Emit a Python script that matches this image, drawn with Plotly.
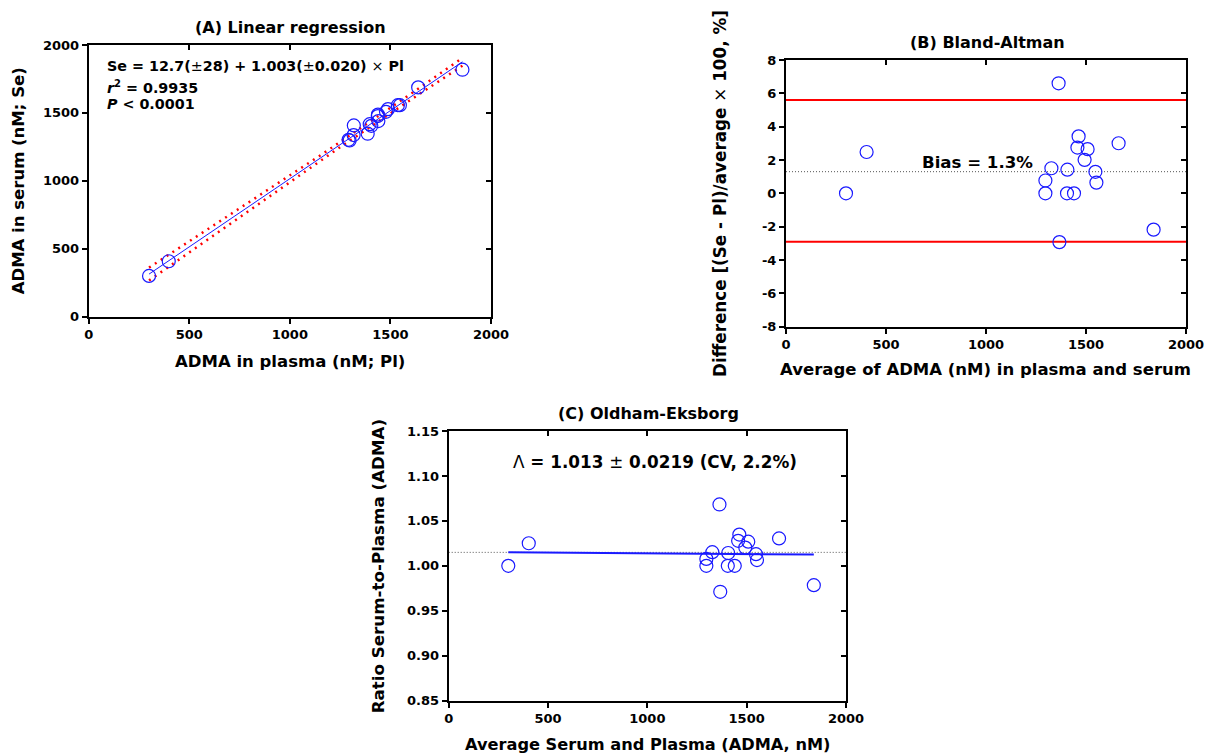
import numpy as np
import plotly.graph_objects as go

# ADMA concentrations (nM) measured in paired plasma and serum samples
plasma = [300, 398, 1318, 1292, 1297, 1317, 1397, 1405, 1440, 1438, 1437, 1488, 1478, 1537, 1547, 1638, 1387, 1858]
serum = [300, 408, 1408, 1302, 1297, 1337, 1417, 1405, 1440, 1488, 1477, 1528, 1508, 1557, 1557, 1688, 1347, 1818]

# Regression results: Se = a + b * Pl
reg_intercept, reg_intercept_se = 12.7, 28
reg_slope, reg_slope_se = 1.003, 0.020
reg_r2 = 0.9935
t_crit = 2.120  # two-sided 95 %, df = 16

# Bland-Altman statistics (%)
ba_bias, ba_upper, ba_lower = 1.3, 5.6, -2.9

# Oldham-Eksborg ratio
oe_mean, oe_sd, oe_cv = 1.013, 0.0219, 2.2
oe_ref = 1.015

# Tick labels
ticks_a = [0, 500, 1000, 1500, 2000]
ticks_b_y = [-8, -6, -4, -2, 0, 2, 4, 6, 8]
ticks_c_y = [0.85, 0.90, 0.95, 1.00, 1.05, 1.10, 1.15]

pl = np.array(plasma, float)
se = np.array(serum, float)
avg = (pl + se) / 2
diff_pct = (se - pl) / avg * 100
ratio = se / pl

W, H = 1205, 756
FONT = "DejaVu Sans"
BLUE = "#1a1aff"


def px(x):
    return x / W


def py(y):
    return 1 - y / H


fig = go.Figure()

marker = dict(symbol="circle-open", size=13, color=BLUE, line=dict(width=1.2, color=BLUE))

# ---------------- (A) Linear regression ----------------
xfit = np.linspace(pl.min(), pl.max(), 60)
yfit = reg_intercept + reg_slope * xfit
xbar = pl.mean()
s2n = reg_intercept_se ** 2 - (xbar * reg_slope_se) ** 2
se_fit = np.sqrt(s2n + ((xfit - xbar) * reg_slope_se) ** 2)
for sign in (1, -1):
    fig.add_trace(go.Scatter(x=xfit, y=yfit + sign * t_crit * se_fit, mode="lines",
                             line=dict(color="red", width=2.5, dash="2px,5px"),
                             xaxis="x", yaxis="y", showlegend=False, hoverinfo="skip"))
fig.add_trace(go.Scatter(x=xfit, y=yfit, mode="lines", line=dict(color=BLUE, width=1),
                         xaxis="x", yaxis="y", showlegend=False))
fig.add_trace(go.Scatter(x=pl, y=se, mode="markers", marker=marker,
                         xaxis="x", yaxis="y", showlegend=False))

# ---------------- (B) Bland-Altman ----------------
for yv, col, w, dash in [(ba_upper, "red", 2, "solid"), (ba_lower, "red", 2, "solid"),
                         (ba_bias, "#555555", 1, "1px,2px")]:
    fig.add_trace(go.Scatter(x=[0, 2000], y=[yv, yv], mode="lines",
                             line=dict(color=col, width=w, dash=dash),
                             xaxis="x2", yaxis="y2", showlegend=False, hoverinfo="skip"))
fig.add_trace(go.Scatter(x=avg, y=diff_pct, mode="markers", marker=marker,
                         xaxis="x2", yaxis="y2", showlegend=False))

# ---------------- (C) Oldham-Eksborg ----------------
fig.add_trace(go.Scatter(x=[0, 2000], y=[oe_ref, oe_ref], mode="lines",
                         line=dict(color="#555555", width=1, dash="1px,2px"),
                         xaxis="x3", yaxis="y3", showlegend=False, hoverinfo="skip"))
c_slope, c_int = np.polyfit(avg, ratio, 1)
xr = np.array([avg.min(), avg.max()])
fig.add_trace(go.Scatter(x=xr, y=c_int + c_slope * xr, mode="lines",
                         line=dict(color=BLUE, width=2),
                         xaxis="x3", yaxis="y3", showlegend=False))
fig.add_trace(go.Scatter(x=avg, y=ratio, mode="markers", marker=marker,
                         xaxis="x3", yaxis="y3", showlegend=False))

# Empty traces so the inward-tick frame axes get drawn
for i in (4, 5, 6):
    fig.add_trace(go.Scatter(x=[None], y=[None], xaxis=f"x{i}", yaxis=f"y{i}",
                             showlegend=False, hoverinfo="skip"))

tickfont = dict(family=FONT, size=13, color="black", weight="bold")
base = dict(showline=True, linecolor="black", linewidth=2, mirror=True, ticks="outside",
            ticklen=5, tickwidth=2, tickcolor="black", showgrid=False, zeroline=False,
            tickfont=tickfont, automargin=False, fixedrange=True)
frame = dict(showline=False, ticks="inside", ticklen=5, tickwidth=2, tickcolor="black",
             showgrid=False, zeroline=False, showticklabels=False, automargin=False)

dom = {
    "A": ([px(88.7), px(491)], [py(316.7), py(45)]),
    "B": ([px(786), px(1186)], [py(326.7), py(60)]),
    "C": ([px(448.7), px(846)], [py(700.7), py(431)]),
}

ba_text = [str(v) for v in ticks_b_y]
c_text = [f"{v:.2f}" for v in ticks_c_y]

fig.update_layout(
    width=W, height=H, margin=dict(l=0, r=0, t=0, b=0),
    plot_bgcolor="white", paper_bgcolor="white",
    font=dict(family=FONT, color="black"),
    xaxis=dict(base, domain=dom["A"][0], anchor="y", range=[0, 2000],
               tickvals=ticks_a, ticktext=[str(v) for v in ticks_a]),
    yaxis=dict(base, domain=dom["A"][1], anchor="x", range=[0, 2000],
               tickvals=ticks_a, ticktext=[str(v) for v in ticks_a]),
    xaxis2=dict(base, domain=dom["B"][0], anchor="y2", range=[0, 2000],
                tickvals=ticks_a, ticktext=[str(v) for v in ticks_a]),
    yaxis2=dict(base, domain=dom["B"][1], anchor="x2", range=[-8, 8],
                tickvals=ticks_b_y, ticktext=ba_text),
    xaxis3=dict(base, domain=dom["C"][0], anchor="y3", range=[0, 2000],
                tickvals=ticks_a, ticktext=[str(v) for v in ticks_a]),
    yaxis3=dict(base, domain=dom["C"][1], anchor="x3", range=[0.85, 1.15],
                tickvals=ticks_c_y, ticktext=c_text),
    xaxis4=dict(frame, overlaying="x", anchor="y", side="top", range=[0, 2000], tickvals=ticks_a),
    yaxis4=dict(frame, overlaying="y", anchor="x", side="right", range=[0, 2000], tickvals=ticks_a),
    xaxis5=dict(frame, overlaying="x2", anchor="y2", side="top", range=[0, 2000], tickvals=ticks_a),
    yaxis5=dict(frame, overlaying="y2", anchor="x2", side="right", range=[-8, 8], tickvals=ticks_b_y),
    xaxis6=dict(frame, overlaying="x3", anchor="y3", side="top", range=[0, 2000], tickvals=ticks_a),
    yaxis6=dict(frame, overlaying="y3", anchor="x3", side="right", range=[0.85, 1.15], tickvals=ticks_c_y),
)


def label(text, x, y, size=16.5, angle=0, xanchor="center"):
    fig.add_annotation(text=text, x=px(x), y=py(y), xref="paper", yref="paper",
                       showarrow=False, textangle=angle, xanchor=xanchor, yanchor="middle",
                       font=dict(family=FONT, size=size, color="black", weight="bold"))


# Panel titles
label("(A) Linear regression", 290.5, 27.5, size=16)
label("(B) Bland-Altman", 987.5, 42.7, size=16)
label("(C) Oldham-Eksborg", 648, 413.3, size=16)

# Axis titles
label("ADMA in plasma (nM; Pl)", 290, 361.7)
label("ADMA in serum (nM; Se)", 18.3, 181, angle=-90)
label("Average of ADMA (nM) in plasma and serum", 985.8, 369.3)
label("Difference [(Se - Pl)/average <span style='font-weight:normal'>×</span> 100, %]",
      720.7, 193.3, size=16.8, angle=-90)
label("Average Serum and Plasma (ADMA, nM)", 647.5, 744.5, size=16.2)
label("Ratio Serum-to-Plasma (ADMA)", 378.3, 566, size=16.7, angle=-90)

# Statistics text
nrm = "<span style='font-weight:normal'>{}</span>"
label(f"Se = {reg_intercept}({nrm.format('±')}{reg_intercept_se}) + {reg_slope:.3f}"
      f"({nrm.format('±')}{reg_slope_se:.3f}) {nrm.format('×')} Pl", 105.3, 66, size=14.3, xanchor="left")
label(f"<i>r</i><sup>2</sup> = {reg_r2}", 105.3, 87.3, size=14.3, xanchor="left")
label("<i>P</i> < 0.0001", 105.3, 104.3, size=14.3, xanchor="left")
label(f"Bias = {ba_bias}%", 977.5, 163, size=16.6)
label(f"{nrm.format('Λ')} = {oe_mean:.3f} {nrm.format('±')} {oe_sd} (CV, {oe_cv}%)", 654.5, 461.7, size=16.8)

fig.write_html("out.html")
